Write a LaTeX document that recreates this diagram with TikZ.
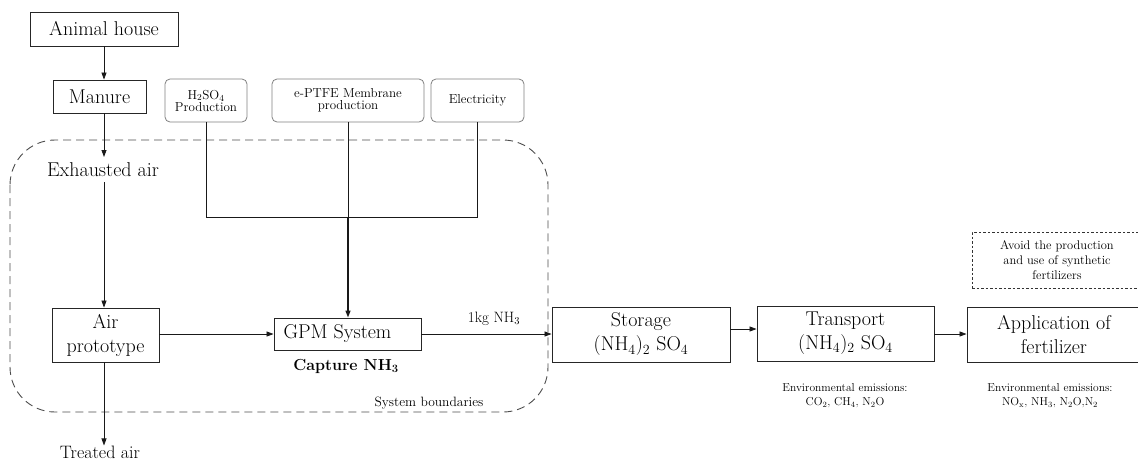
\documentclass[tikz,border=0pt]{standalone}
\usetikzlibrary{arrows.meta}
\begin{document}
\begin{tikzpicture}[x=1pt,y=-1pt,
  big/.style={font=\fontsize{20}{24}\selectfont},
  mbox/.style={draw=black!85, line width=0.9pt, inner sep=0pt, align=center, big},
  sbox/.style={draw=black!50, line width=0.8pt, rounded corners=5pt, inner sep=0pt, align=center, font=\fontsize{13}{14}\selectfont},
  small/.style={align=center, font=\fontsize{11.5}{14}\selectfont},
  arr/.style={-{Triangle[length=7pt,width=5pt]}, line width=0.8pt, black!90},
  ln/.style={line width=0.8pt, black!90}
]
\useasboundingbox (0,0) rectangle (1138,464);
% system boundary
\draw[black!70, line width=0.9pt, dash pattern=on 8pt off 5pt, rounded corners=45pt] (10,140) rectangle (548,412);
\node[inner sep=0pt, font=\fontsize{13.5}{15}\selectfont] (sysb) at (429,403) {System boundaries};

% top nodes
\node[mbox, minimum width=148, minimum height=34] (animal) at (104,29) {Animal house};
\node[mbox, minimum width=93, minimum height=33] (manure) at (99.5,96.5) {Manure};
\node[sbox, minimum width=82, minimum height=43] (h2so4) at (206,100.5) {H\textsubscript{2}SO\textsubscript{4}\\[-2pt]Production};
\node[sbox, minimum width=152, minimum height=43] (eptfe) at (348,100.5) {e-PTFE Membrane\\[-2pt]production};
\node[sbox, minimum width=93, minimum height=43] (elec) at (477.5,100.5) {Electricity};

\node[big, inner sep=0pt] (exh) at (103,170) {Exhausted air};
\node[mbox, minimum width=107, minimum height=54] (air) at (105.5,335) {Air\\prototype};
\node[mbox, minimum width=147, minimum height=32] (gpm) at (347.5,334) {GPM System\hspace*{20pt}};
\node[inner sep=0pt, font=\fontsize{16}{18}\selectfont\bfseries] (capture) at (346,366) {Capture NH\textsubscript{3}};
\node[inner sep=0pt, font=\fontsize{15}{17}\selectfont] (kg) at (494,319) {1kg NH\textsubscript{3}};
\node[inner sep=0pt, font=\fontsize{18}{20}\selectfont] (treated) at (100,452) {Treated air};

\node[mbox, minimum width=178, minimum height=55] (storage) at (641,334.5) {Storage\\(NH\textsubscript{4})\textsubscript{2} SO\textsubscript{4}};
\node[mbox, minimum width=177, minimum height=55] (transport) at (845.5,333.5) {Transport\\(NH\textsubscript{4})\textsubscript{2} SO\textsubscript{4}};
\node[mbox, minimum width=174, minimum height=55] (app) at (1054,334.5) {Application of\\fertilizer};
\node[draw=black!80, line width=0.8pt, dash pattern=on 2.5pt off 2pt, minimum width=170, minimum height=56, inner sep=0pt, align=center, font=\fontsize{12.5}{15}\selectfont] (avoid) at (1057,260) {Avoid the production\\and use of synthetic\\fertilizers};

\node[small] (env1) at (845,396) {Environmental emissions:\\CO\textsubscript{2}, CH\textsubscript{4}, N\textsubscript{2}O};
\node[small] (env2) at (1050,396) {Environmental emissions:\\NO\textsubscript{x}, NH\textsubscript{3}, N\textsubscript{2}O,N\textsubscript{2}};

% connectors
\coordinate (jl) at (h2so4.south |- 0,217);
\coordinate (jr) at (477,217);
\coordinate (jm) at (eptfe.south |- 0,217);
\draw[arr] (animal.south -| 104,0) -- (manure.north -| 104,0);
\draw[arr] (manure.south -| 104,0) -- (104,157);
\draw[arr] (exh.south -| 104,0) ++(0,5) -- (air.north -| 104,0);
\draw[ln] (h2so4.south) -- (jl) -- (jr) -- (elec.south -| jr);
\draw[ln] (eptfe.south) -- (jm);
\draw[arr, line width=1.4pt] (jm) -- (gpm.north -| jm);
\draw[arr] (air.east |- 0,334) -- (gpm.west);
\draw[arr] (gpm.east) -- (storage.west |- 0,334);
\draw[arr] (air.south -| 104,0) -- (treated.north -| 104,0);
\draw[arr] (storage.east |- 0,329) -- (transport.west |- 0,329);
\draw[arr] (transport.east |- 0,334) -- (app.west |- 0,334);
\end{tikzpicture}
\end{document}
